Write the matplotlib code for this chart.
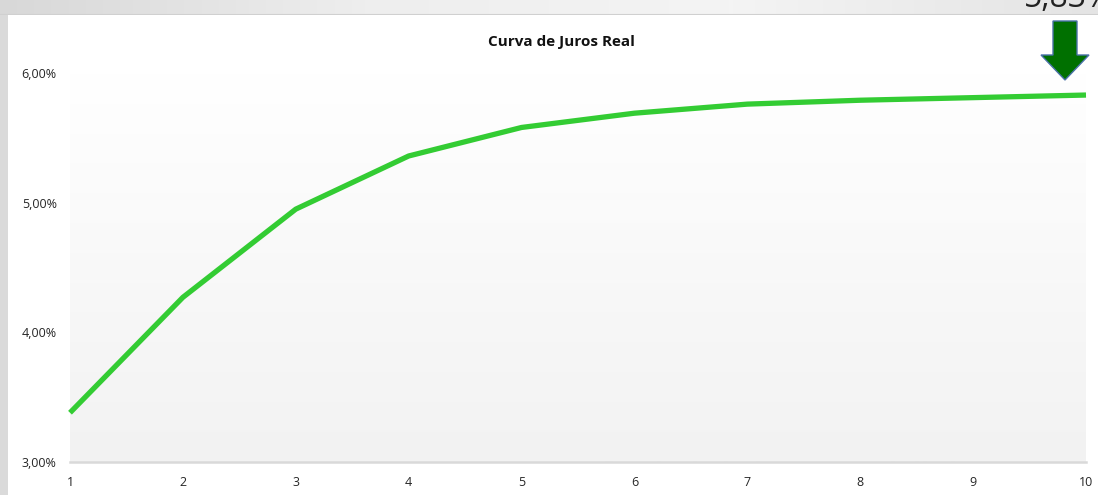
import numpy as np
import matplotlib.pyplot as plt
import matplotlib.patches as patches
from matplotlib.ticker import FuncFormatter

#######################################################
Anos  = [1, 2, 3, 4, 5, 6, 7, 8, 9, 10]
Juros = [3.38, 4.27, 4.95, 5.36, 5.58, 5.69, 5.76, 5.79, 5.81, 5.83]   # %
Titulo = 'Curva de Juros Real'
Rotulo_Final = '5,83%'
#######################################################

W, H = 1098, 495
plt.rcParams['font.family'] = ['Open Sans', 'DejaVu Sans']

fig = plt.figure(figsize=(W / 100, H / 100), dpi=100)
fig.patch.set_facecolor('white')

def fx(px):
    return px / W

def fy(py):
    return 1 - py / H

# screenshot frame: grey band on top and left
top_band = np.linspace(0, 1, 256).reshape(1, -1)
ax_bg = fig.add_axes([0, fy(15), 1, 15 / H])
ax_bg.imshow(top_band, aspect='auto', cmap=plt.matplotlib.colors.LinearSegmentedColormap.from_list(
    'g', ['#d8d8d8', '#eeeeee', '#f4f4f4', '#e4e4e4']), extent=[0, 1, 0, 1])
ax_bg.axhline(0.03, color='#d0d0d0', lw=1.5)
ax_bg.set_axis_off()
fig.patches.append(patches.Rectangle((0, 0), fx(8), fy(15), transform=fig.transFigure,
                                     facecolor='#dadada', edgecolor='none', zorder=1))

#Chart axes
ax = fig.add_axes([fx(70), fy(462), fx(1086 - 70), (462 - 73) / H])
grad = np.linspace(0, 1, 256).reshape(-1, 1)
ax.imshow(grad, aspect='auto', extent=[1, 10, 3, 6], zorder=0,
          cmap=plt.matplotlib.colors.LinearSegmentedColormap.from_list('p', ['#f2f2f2', '#ffffff']),
          origin='lower')
ax.plot(Anos, Juros, color='#33cc33', lw=3.8, solid_capstyle='butt', zorder=3, clip_on=False)

ax.set_xlim(1, 10)
ax.set_ylim(3, 6)
ax.set_xticks(Anos)
ax.set_yticks([3, 4, 5, 6])
ax.yaxis.set_major_formatter(FuncFormatter(lambda v, p: ('%.2f%%' % v).replace('.', ',')))
ax.tick_params(axis='both', length=0, labelsize=9, colors='#262626')
ax.tick_params(axis='x', pad=10)
ax.tick_params(axis='y', pad=9.5)
for s in ['top', 'right', 'left']:
    ax.spines[s].set_visible(False)
ax.spines['bottom'].set_color('#d9d9d9')
ax.spines['bottom'].set_linewidth(1.8)

fig.text(fx(561), fy(42), Titulo, ha='center', va='center', fontsize=11,
         fontweight='bold', color='#111111')

# green arrow pointing to the last point
arrow = [(1053, 21), (1077, 21), (1077, 55), (1089, 55), (1065, 80),
         (1041, 55), (1053, 55)]
fig.patches.append(patches.Polygon([(fx(x), fy(y)) for x, y in arrow], closed=True,
                                   transform=fig.transFigure, facecolor='#007000',
                                   edgecolor='#4a72a8', lw=1, zorder=5))
fig.text(fx(1024), fy(7), Rotulo_Final, ha='left', va='baseline', fontsize=23,
         color='#222222', zorder=6)

plt.savefig('out.png', dpi=100)
